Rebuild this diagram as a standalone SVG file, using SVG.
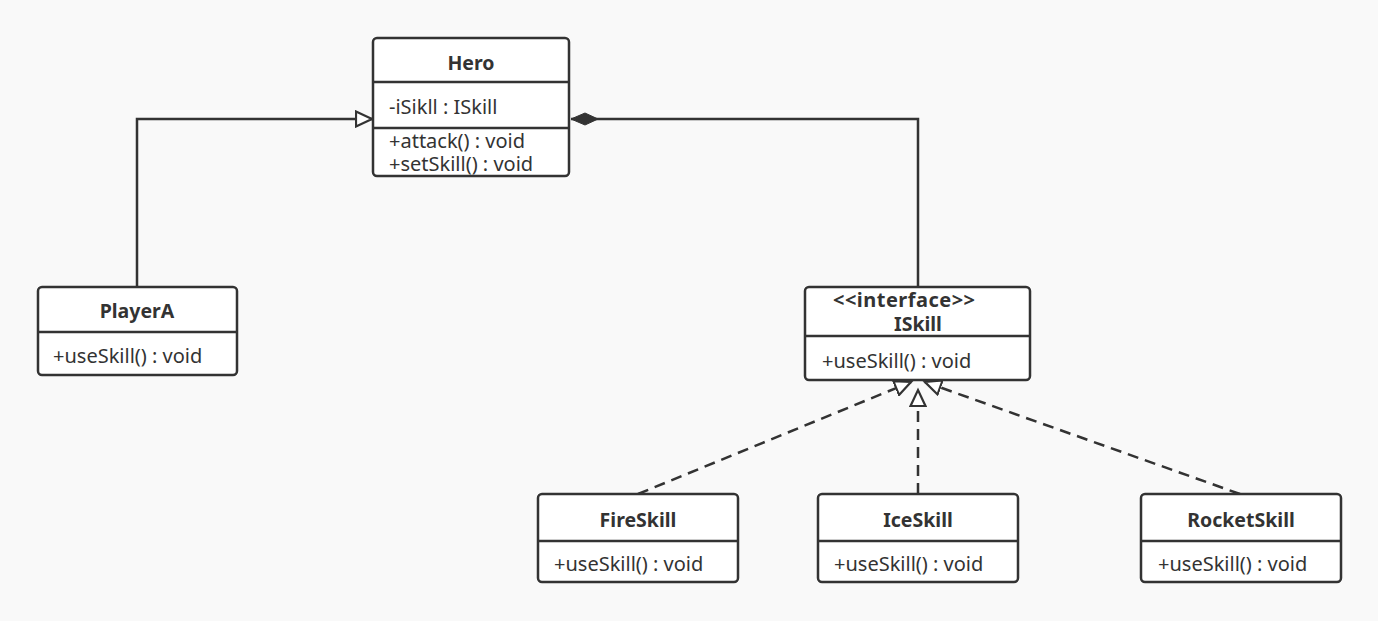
<svg xmlns="http://www.w3.org/2000/svg" width="1378" height="621" viewBox="0 0 1378 621">
<style>
.box{fill:#ffffff;stroke:#333333;stroke-width:2.5}
.div{stroke:#333333;stroke-width:2.5}
.t{font-family:"Noto Sans","Open Sans","Liberation Sans",sans-serif;font-size:20px;fill:#333333}
.b{font-weight:bold;text-anchor:middle;font-size:19.5px}
.ln{fill:none;stroke:#333333;stroke-width:2.5}
.dash{stroke-dasharray:11,7}
</style>
<defs>
<marker id="tri" markerWidth="20" markerHeight="18" refX="17" refY="9" orient="auto" markerUnits="userSpaceOnUse">
<path d="M1,1.5 L17,9 L1,16.5 Z" fill="#ffffff" stroke="#333333" stroke-width="2.2"/>
</marker>
<marker id="dia" markerWidth="30" markerHeight="14" refX="28" refY="7" orient="auto" markerUnits="userSpaceOnUse">
<path d="M1,7 L14,1 L28,7 L14,13 Z" fill="#333333" stroke="#333333" stroke-width="1"/>
</marker>
</defs>
<rect x="0" y="0" width="1378" height="621" fill="#f9f9f9"/>
<g id="connectors">
<path class="ln" d="M137,287 L137,119 L372,119" marker-end="url(#tri)"/>
<path class="ln" d="M918,287 L918,119 L571,119" marker-end="url(#dia)"/>
<path class="ln dash" d="M638,494 L911,382" marker-end="url(#tri)"/>
<path class="ln dash" d="M918,494 L918,390" marker-end="url(#tri)"/>
<path class="ln dash" d="M1240,494 L925,382" marker-end="url(#tri)"/>
</g>
<g id="Hero">
<rect class="box" x="373" y="38" width="196" height="138" rx="4"/>
<line class="div" x1="373" y1="82" x2="569" y2="82"/>
<line class="div" x1="373" y1="128" x2="569" y2="128"/>
<text class="t b" x="471" y="70">Hero</text>
<text class="t" x="389" y="114">-iSikll : ISkill</text>
<text class="t" x="389" y="148">+attack() : void</text>
<text class="t" x="389" y="171">+setSkill() : void</text>
</g>
<g id="PlayerA">
<rect class="box" x="38" y="287" width="199" height="88" rx="4"/>
<line class="div" x1="38" y1="332" x2="237" y2="332"/>
<text class="t b" x="137" y="318">PlayerA</text>
<text class="t" x="53" y="363">+useSkill() : void</text>
</g>
<g id="ISkill">
<rect class="box" x="805" y="287" width="225" height="93" rx="4"/>
<line class="div" x1="805" y1="336" x2="1030" y2="336"/>
<text class="t" x="833" y="307" font-weight="bold" font-size="19.5" textLength="142" lengthAdjust="spacing">&lt;&lt;interface&gt;&gt;</text>
<text class="t b" x="918" y="331">ISkill</text>
<text class="t" x="822" y="368">+useSkill() : void</text>
</g>
<g id="FireSkill">
<rect class="box" x="538" y="494" width="200" height="88" rx="4"/>
<line class="div" x1="538" y1="541" x2="738" y2="541"/>
<text class="t b" x="638" y="527">FireSkill</text>
<text class="t" x="554" y="571">+useSkill() : void</text>
</g>
<g id="IceSkill">
<rect class="box" x="818" y="494" width="200" height="88" rx="4"/>
<line class="div" x1="818" y1="541" x2="1018" y2="541"/>
<text class="t b" x="918" y="527">IceSkill</text>
<text class="t" x="834" y="571">+useSkill() : void</text>
</g>
<g id="RocketSkill">
<rect class="box" x="1141" y="494" width="200" height="88" rx="4"/>
<line class="div" x1="1141" y1="541" x2="1341" y2="541"/>
<text class="t b" x="1241" y="527">RocketSkill</text>
<text class="t" x="1158" y="571">+useSkill() : void</text>
</g>
</svg>
